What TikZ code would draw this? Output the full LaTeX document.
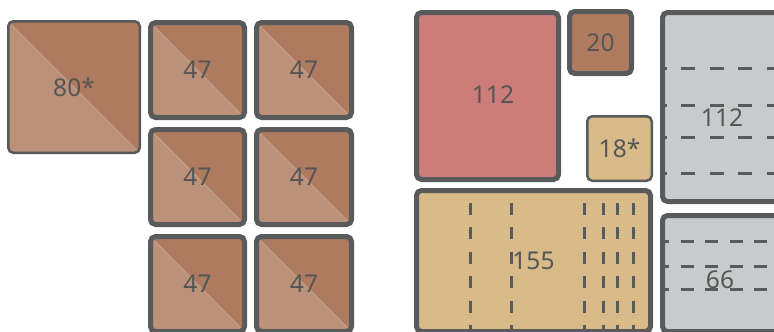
\documentclass[tikz,border=0pt]{standalone}
\usepackage{fontspec}
\setsansfont{Noto Sans}
\usetikzlibrary{positioning}
\definecolor{edge}{HTML}{595A5C}
\definecolor{ink}{HTML}{555555}
\definecolor{brownhi}{HTML}{AF7B60}
\definecolor{brownlo}{HTML}{BC917A}
\definecolor{rose}{HTML}{CD7D79}
\definecolor{sand}{HTML}{D9BB8A}
\definecolor{stone}{HTML}{C8CBCB}
\newcommand{\tilefont}{\sffamily\fontsize{24.5}{28}\selectfont}
\tikzset{
  tile/.style={draw=edge, line width=5pt, rounded corners=5pt, inner sep=0pt,
    text=ink, font=\tilefont},
  slim/.style={line width=2.5pt},
  split/.style={fill=brownhi, path picture={
      \fill[brownlo] (path picture bounding box.north west)
        -- (path picture bounding box.south east)
        -- (path picture bounding box.south west) -- cycle;
      \draw[white, opacity=.25, line width=.6pt] (path picture bounding box.north west)
        -- (path picture bounding box.south east);}},
  cut/.style={draw=edge, line width=3pt},
  tag/.style={text=ink, font=\tilefont, inner sep=0pt},
}
\begin{document}
\begin{tikzpicture}[x=1pt,y=-1pt]
  \clip (0,0) rectangle (774,332);
  \fill[white] (0,0) rectangle (774,332);

  % left group: one big tile and a 2x3 block of small ones
  \node[tile, slim, split, minimum width=131.5pt, minimum height=131.5pt] (big) at (74,87) {80*};
  \node[tile, split, minimum width=94pt, minimum height=95pt] (t11) at (197.5,70) {47};
  \node[tile, split, minimum width=95pt, minimum height=95pt, right=7pt of t11] (t12) {47};
  \node[tile, split, minimum width=94pt, minimum height=95pt, below=7pt of t11] (t21) {47};
  \node[tile, split, minimum width=95pt, minimum height=95pt, below=7pt of t12] (t22) {47};
  \node[tile, split, minimum width=94pt, minimum height=95pt, below=7pt of t21] (t31) {47};
  \node[tile, split, minimum width=95pt, minimum height=95pt, below=7pt of t22] (t32) {47};

  % right group
  \node[tile, fill=rose, minimum width=142pt, minimum height=167pt] (red) at (487.5,96) {};
  \node[tile, fill=brownhi, minimum width=62pt, minimum height=62pt] (small) at (600.5,42.5) {20};
  \node[tile, slim, fill=sand, minimum width=64.5pt, minimum height=64.5pt] (tiny) at (619.5,148.5) {18*};
  \node[tile, fill=sand, minimum width=234pt, minimum height=141pt] (wide) at (533.5,261) {};
  \node[tile, fill=stone, minimum width=119pt, minimum height=189pt] (g1) at (722,107) {};
  \node[tile, fill=stone, minimum width=119pt, minimum height=116pt] (g2) at (722,273.5) {};

  % dashed cuts
  \foreach \x in {470,511,584,603,617,633}
    \draw[cut, dash pattern=on 12pt off 12.5pt, dash phase=10pt] (\x,0 |- wide.north) -- (\x,0 |- wide.south);
  \foreach \y in {68,105,137,173}
    \draw[cut, dash pattern=on 14pt off 14.5pt, dash phase=7.5pt] (g1.west |- 0,\y) -- (g1.east |- 0,\y);
  \foreach \y in {241,266,289}
    \draw[cut, dash pattern=on 13pt off 11.5pt, dash phase=4pt] (g2.west |- 0,\y) -- (g2.east |- 0,\y);

  % labels on top of the cuts
  \node[tag] (rlbl) at (493,95) {112};
  \node[tag] (wlbl) at (wide) {155};
  \node[tag] (g1lbl) at (722,118) {112};
  \node[tag] (g2lbl) at (720,280) {66};
\end{tikzpicture}
\end{document}
